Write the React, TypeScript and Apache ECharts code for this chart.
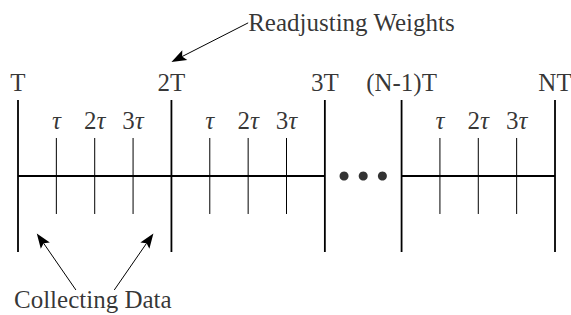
import React, { useEffect, useRef } from "react";
import * as echarts from "echarts";

// Positions in units of tau (T = 4 tau)
const majorX = [0, 4, 8, 10, 14];
const majorLabels = ["T", "2T", "3T", "(N-1)T", "NT"];
const minorX = [1, 2, 3, 5, 6, 7, 11, 12, 13];
const minorLabels = ["{i|τ}", "2{i|τ}", "3{i|τ}", "{i|τ}", "2{i|τ}", "3{i|τ}", "{i|τ}", "2{i|τ}", "3{i|τ}"];
const axisSegments = [
  [0, 8],
  [10, 14],
];
const dotsX = [8.5, 9, 9.5];
const majorHalf = 2;
const minorHalf = 1;
const majorLabelY = 2.47;
const minorLabelY = 1.45;
// arrows: [fromX, fromY, toX, toY]
const arrows = [
  [6.0, 4.03, 4.0, 3.0],
  [1.51, -3.0, 0.49, -1.51],
  [2.51, -3.0, 3.53, -1.51],
];
const notes = [
  { text: "Readjusting Weights", x: 6.0, y: 4.05, align: "left" },
  { text: "Collecting Data", x: 1.95, y: -3.26, align: "center" },
];

const FONT = "'Liberation Serif', 'DejaVu Serif', serif";
const FS = 25;

export default function App() {
  const ref = useRef<HTMLDivElement>(null);
  useEffect(() => {
    if (!ref.current) return;
    const chart = echarts.init(ref.current, null, { renderer: "svg" });

    const lineData: number[][] = [];
    majorX.forEach((x) => lineData.push([x, -majorHalf, x, majorHalf, 1.8]));
    minorX.forEach((x) => lineData.push([x, -minorHalf, x, minorHalf, 1]));
    axisSegments.forEach((s) => lineData.push([s[0], 0, s[1], 0, 2.2]));

    const labelStyle = {
      show: true,
      position: "inside",
      color: "#000",
      fontFamily: FONT,
      fontSize: FS,
    };

    chart.setOption({
      animation: false,
      backgroundColor: "#fff",
      textStyle: { fontFamily: FONT },
      grid: { left: 0, right: 0, top: 0, bottom: 0 },
      xAxis: { type: "value", min: -0.4693, max: 14.417, show: false },
      yAxis: { type: "value", min: -3.658, max: 4.6316, show: false },
      series: [
        {
          type: "custom",
          data: lineData,
          renderItem: (params: any, api: any) => {
            const p1 = api.coord([api.value(0), api.value(1)]);
            const p2 = api.coord([api.value(2), api.value(3)]);
            return {
              type: "line",
              shape: { x1: p1[0], y1: p1[1], x2: p2[0], y2: p2[1] },
              style: { stroke: "#000", lineWidth: api.value(4) },
            };
          },
        },
        {
          type: "custom",
          data: arrows,
          renderItem: (params: any, api: any) => {
            const p1 = api.coord([api.value(0), api.value(1)]);
            const p2 = api.coord([api.value(2), api.value(3)]);
            const dx = p2[0] - p1[0];
            const dy = p2[1] - p1[1];
            const len = Math.sqrt(dx * dx + dy * dy);
            const ux = dx / len;
            const uy = dy / len;
            const L = 15;
            const hw = 5.5;
            const bx = p2[0] - ux * L;
            const by = p2[1] - uy * L;
            const cx = p2[0] - ux * L * 0.8;
            const cy = p2[1] - uy * L * 0.8;
            return {
              type: "group",
              children: [
                {
                  type: "line",
                  shape: { x1: p1[0], y1: p1[1], x2: cx, y2: cy },
                  style: { stroke: "#000", lineWidth: 1 },
                },
                {
                  type: "polygon",
                  shape: {
                    points: [
                      [p2[0], p2[1]],
                      [bx - uy * hw, by + ux * hw],
                      [cx, cy],
                      [bx + uy * hw, by - ux * hw],
                    ],
                  },
                  style: { fill: "#000" },
                },
              ],
            };
          },
        },
        {
          type: "scatter",
          data: dotsX.map((x) => [x, 0]),
          symbol: "circle",
          symbolSize: 9,
          itemStyle: { color: "#000" },
        },
        {
          type: "scatter",
          symbolSize: 0,
          data: majorX.map((x, i) => ({ value: [x, majorLabelY], name: majorLabels[i] })),
          label: { ...labelStyle, formatter: (p: any) => p.name },
        },
        {
          type: "scatter",
          symbolSize: 0,
          data: minorX.map((x, i) => ({ value: [x, minorLabelY], name: minorLabels[i] })),
          label: {
            ...labelStyle,
            formatter: (p: any) => p.name,
            rich: {
              i: { fontFamily: FONT, fontSize: FS, fontStyle: "italic", color: "#000" },
            },
          },
        },
        ...notes.map((n) => ({
          type: "scatter",
          symbolSize: 0,
          data: [{ value: [n.x, n.y], name: n.text }],
          label: {
            ...labelStyle,
            position: n.align === "left" ? "right" : "inside",
            distance: 0,
            formatter: (p: any) => p.name,
          },
        })),
      ],
    });
    return () => chart.dispose();
  }, []);
  return (
    <div
      ref={ref}
      style={{ position: "absolute", left: 0, top: 0, width: 571, height: 315, background: "#fff" }}
    />
  );
}
